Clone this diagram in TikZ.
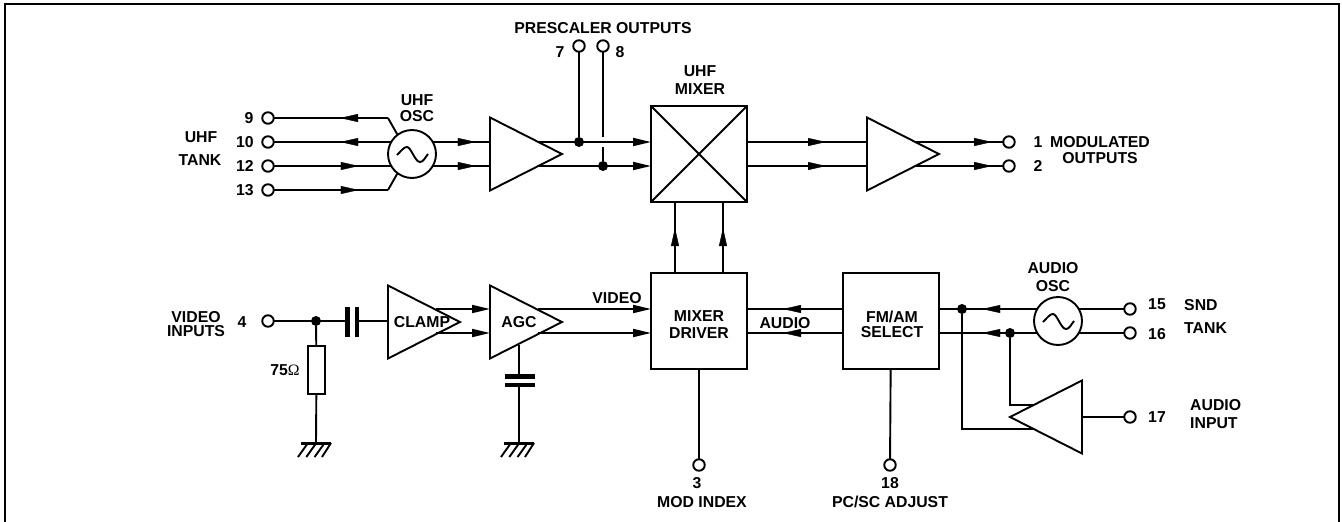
\documentclass[tikz,border=0pt]{standalone}
\usepackage{fontspec}
\setmainfont{Liberation Sans}
\newfontfamily\symfont{Liberation Serif}
\usetikzlibrary{arrows.meta,decorations.markings,shapes.geometric}
\tikzset{
  wire/.style={line width=1.9pt,line cap=butt,line join=miter},
  flow/.style={postaction={decorate},decoration={markings,mark=at position #1 with {\arrow[line width=0.4pt]{Triangle[length=18pt,width=8pt]}}}},
  endflow/.style={-{Triangle[length=18pt,width=8pt]}},
  pin/.style={circle,draw,line width=1.9pt,fill=white,inner sep=0pt,minimum size=11.5pt,outer sep=0pt},
  dot/.style={circle,fill=black,inner sep=0pt,minimum size=10pt},
  block/.style={draw,line width=1.9pt,inner sep=0pt,outer sep=0pt,minimum width=96pt,minimum height=96pt},
  amp/.style={draw,line width=1.9pt,isosceles triangle,isosceles triangle stretches,inner sep=0pt,outer sep=0pt,minimum width=73pt,minimum height=72pt,shape border rotate=#1},
  amp/.default=0,
  oscc/.style={circle,draw,line width=1.9pt,inner sep=0pt,outer sep=0pt,minimum size=48pt},
  lbl/.style={font=\fontsize{15.8}{16}\selectfont\bfseries,inner sep=0pt,align=center},
  ll/.style={lbl,align=left,anchor=west},
  plate/.style={line width=4.5pt},
  pics/groundsym/.style={code={
    \draw[line width=3pt] (-15,0) -- (15,0);
    \draw[line width=1.9pt] (-8,0) -- (-18,14) (0.3,0) -- (-9.7,14) (8.6,0) -- (-1.4,14) (15,0) -- (6,14);
  }},
  pics/sinewave/.style={code={
    \draw[line width=1.9pt] (-15,1) .. controls (-10,-4) and (-8,-7) .. (-5,-7) .. controls (-1,-7) and (3,8) .. (8,8) .. controls (11,8) and (13,4) .. (16,0);
  }}
}
\begin{document}
\begin{tikzpicture}[x=1pt,y=-1pt]
\useasboundingbox (0,0) rectangle (1342,522);
\draw[line width=2.6pt] (5,522) -- (5,4) -- (1339,4) -- (1339,522);

% terminals
\node[pin] (t9) at (268,118) {};
\node[pin] (t10) at (268,142) {};
\node[pin] (t12) at (268,166) {};
\node[pin] (t13) at (268,190) {};
\node[pin] (t7) at (579,46) {};
\node[pin] (t8) at (603,46) {};
\node[pin] (t1) at (1009,142) {};
\node[pin] (t2) at (1009,166) {};
\node[pin] (t4) at (268,321) {};
\node[pin] (t3) at (699,465) {};
\node[pin] (t18) at (890,465) {};
\node[pin] (t15) at (1130,309) {};
\node[pin] (t16) at (1130,333) {};
\node[pin] (t17) at (1130,417) {};

% blocks
\node[oscc] (uosc) at (412,154) {};
\pic at (uosc) {sinewave};
\node[oscc] (aosc) at (1058,321) {};
\pic at (aosc) {sinewave};
\node[block] (mix) at (699,154) {};
\draw[line width=1.9pt] (mix.north west) -- (mix.south east) (mix.north east) -- (mix.south west);
\node[block] (md) at (699,321) {};
\node[block] (fm) at (891,321) {};
\node[amp,anchor=apex] (a1) at (562,154) {};
\node[amp,anchor=apex] (a2) at (939,154) {};
\node[amp,anchor=apex] (clamp) at (460,322) {};
\node[amp,anchor=apex] (agc) at (562,322) {};
\node[amp=180,anchor=apex] (a3) at (1010,417) {};
\node[draw,line width=1.9pt,inner sep=0pt,outer sep=0pt,minimum width=17pt,minimum height=48pt] (r75) at (316.5,370) {};

% junctions and free ends
\node[dot] (d7) at (579,142) {};
\node[dot] (d8) at (603,166) {};
\node[dot] (dv) at (316,321) {};
\node[dot] (da) at (962,309) {};
\node[dot] (db) at (1010,333) {};
\coordinate (c9) at (388,118);
\coordinate (c13) at (388,190);
\coordinate (a1i1) at (489,142);
\coordinate (a1i2) at (489,166);
\coordinate (a1o1) at (538,142);
\coordinate (a1o2) at (538,166);
\coordinate (mi1) at (651,142);
\coordinate (mi2) at (651,166);
\coordinate (mo1) at (747,142);
\coordinate (mo2) at (747,166);
\coordinate (a2i1) at (867,142);
\coordinate (a2i2) at (867,166);
\coordinate (a2o1) at (915,142);
\coordinate (a2o2) at (915,166);
\coordinate (gap1) at (603,137);
\coordinate (gap2) at (603,147);
\coordinate (mb1) at (675,202);
\coordinate (mb2) at (723,202);
\coordinate (mt1) at (675,273);
\coordinate (mt2) at (723,273);
\coordinate (cli) at (388,321);
\coordinate (p1) at (347.5,321);
\coordinate (p2) at (357,321);
\coordinate (clo1) at (436,309);
\coordinate (clo2) at (436,333);
\coordinate (agi1) at (490,309);
\coordinate (agi2) at (490,333);
\coordinate (ago1) at (538,309);
\coordinate (ago2) at (538,333);
\coordinate (mdw1) at (651,309);
\coordinate (mdw2) at (651,333);
\coordinate (mde1) at (747,309);
\coordinate (mde2) at (747,333);
\coordinate (fmw1) at (843,309);
\coordinate (fmw2) at (843,333);
\coordinate (fme1) at (939,309);
\coordinate (fme2) at (939,333);
\coordinate (a3o) at (1082,417);
\coordinate (a3i1) at (1034,405);
\coordinate (a3i2) at (1034,429);
\coordinate (k1) at (1010,405);
\coordinate (k2) at (962,429);
\coordinate (agb) at (519,345);
\coordinate (cp1) at (519,376.5);
\coordinate (cp2) at (519,385);
\coordinate (g1) at (316,443);
\coordinate (g2) at (519,443);

% UHF section
\draw[wire] (uosc.127) -- (c9);
\draw[wire,flow=48pt] (c9) -- (t9);
\draw[wire,flow=51pt] (uosc.150) -- (t10);
\draw[wire,flow=85pt] (t12) -- (uosc.210);
\draw[wire,flow=85pt] (t13) -- (c13);
\draw[wire] (c13) -- (uosc.233);
\draw[wire,flow=43pt] (uosc.30) -- (a1i1);
\draw[wire,flow=43pt] (uosc.330) -- (a1i2);
\draw[wire,endflow] (a1o1) -- (mi1);
\draw[wire,endflow] (a1o2) -- (mi2);
\draw[wire] (t7) -- (d7);
\draw[wire] (t8) -- (gap1);
\draw[wire] (gap2) -- (d8);
\draw[wire,flow=79pt] (mo1) -- (a2i1);
\draw[wire,flow=79pt] (mo2) -- (a2i2);
\draw[wire,flow=77pt] (a2o1) -- (t1);
\draw[wire,flow=77pt] (a2o2) -- (t2);
\draw[wire,flow=45pt] (mt1) -- (mb1);
\draw[wire,flow=45pt] (mt2) -- (mb2);

% video section
\draw[wire] (t4) -- (p1);
\draw[plate] (347.5,307) -- (347.5,337);
\draw[plate] (357,307) -- (357,337);
\draw[wire] (p2) -- (cli);
\draw[wire] (dv) -- (r75);
\draw[wire] (r75) -- (g1);
\pic at (g1) {groundsym};
\draw[wire,endflow] (clo1) -- (agi1);
\draw[wire,endflow] (clo2) -- (agi2);
\draw[wire,endflow] (ago1) -- (mdw1);
\draw[wire,endflow] (ago2) -- (mdw2);
\draw[wire] (agb) -- (cp1);
\draw[plate] (504.5,376.5) -- (534.5,376.5);
\draw[plate] (504.5,385) -- (534.5,385);
\draw[wire] (cp2) -- (g2);
\pic at (g2) {groundsym};

% audio section
\draw[wire,flow=60pt] (fmw1) -- (mde1);
\draw[wire,flow=60pt] (fmw2) -- (mde2);
\draw[wire,flow=55pt] (aosc.150) -- (fme1);
\draw[wire,flow=55pt] (aosc.210) -- (fme2);
\draw[wire] (aosc.30) -- (t15);
\draw[wire] (aosc.330) -- (t16);
\draw[wire] (db) -- (k1) -- (a3i1);
\draw[wire] (da) -- (k2) -- (a3i2);
\draw[wire] (a3o) -- (t17);
\draw[wire] (md) -- (t3);
\draw[wire] (fm) -- (t18);

% labels
\node[lbl] (lpre) at (603,28) {PRESCALER OUTPUTS};
\node[lbl] (l7) at (560,52) {7};
\node[lbl] (l8) at (620,52) {8};
\node[lbl] (luo) at (417,108) {UHF\\[-0.3pt]OSC};
\node[lbl] (l9) at (249,118) {9};
\node[lbl] (l10) at (245,142) {10};
\node[lbl] (l12) at (245,166) {12};
\node[lbl] (l13) at (245,190) {13};
\node[lbl] (luhf) at (201,137) {UHF};
\node[lbl] (ltank) at (200,160) {TANK};
\node[lbl] (lmix) at (700,80) {UHF\\[1.5pt]MIXER};
\node[lbl] (l1) at (1038,142) {1};
\node[lbl] (l2) at (1038,166) {2};
\node[lbl] (lmod) at (1100,150) {MODULATED\\OUTPUTS};
\node[lbl] (laosc) at (1053,277) {AUDIO\\[2pt]OSC};
\node[lbl] (lvideo) at (617,298) {VIDEO};
\node[lbl] (laudio) at (785,323) {AUDIO};
\node[lbl] (lmd) at (699,325) {MIXER\\[1pt]DRIVER};
\node[lbl] (lfm) at (892,324) {FM/AM\\[-1.3pt]SELECT};
\node[lbl] (lvi) at (196,324) {VIDEO\\[-1.3pt]INPUTS};
\node[lbl] (l4) at (242,322) {4};
\node[lbl] (lr) at (285,370) {75{\symfont\mdseries Ω}};
\node[lbl] (lcl) at (422,322) {CLAMP};
\node[lbl] (lagc) at (519,322) {AGC};
\node[lbl] (l15) at (1157,304) {15};
\node[lbl] (l16) at (1157,334) {16};
\node[lbl] (l17) at (1157,417) {17};
\node[ll] (lsnd) at (1184,305) {SND};
\node[ll] (ltk) at (1184,328) {TANK};
\node[lbl,align=left,anchor=west] (lai) at (1190,414) {AUDIO\\[2pt]INPUT};
\node[lbl] (l3) at (697,483) {3};
\node[lbl] (lmi) at (702,502) {MOD INDEX};
\node[lbl] (l18) at (890,483) {18};
\node[lbl] (lpc) at (890,502) {PC/SC ADJUST};
\end{tikzpicture}
\end{document}
